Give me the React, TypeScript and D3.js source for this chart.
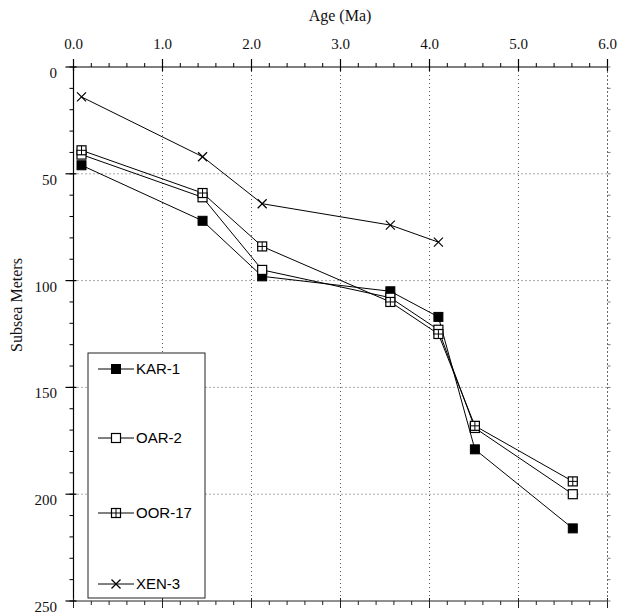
import React from "react";
import * as d3 from "d3";

const ages = [0.09, 1.45, 2.12, 3.56, 4.1, 4.51, 5.61];
const kar1 = [46, 72, 98, 105, 117, 179, 216];
const oar2 = [41, 61, 95, 108, 123, 169, 200];
const oor17 = [39, 59, 84, 110, 125, 168, 194];
const xen3 = [14, 42, 64, 74, 82];
const seriesNames = ["KAR-1", "OAR-2", "OOR-17", "XEN-3"];
const xTickLabels = ["0.0", "1.0", "2.0", "3.0", "4.0", "5.0", "6.0"];
const yTickValues = [0, 50, 100, 150, 200, 250];

const W = 618;
const H = 616;

type Kind = "filled" | "open" | "cross" | "x";

function Marker({ kind, cx, cy }: { kind: Kind; cx: number; cy: number }) {
  const s = 9;
  const h = s / 2;
  if (kind === "filled") {
    return <rect x={cx - h} y={cy - h} width={s} height={s} fill="#000" stroke="#000" strokeWidth={1} />;
  }
  if (kind === "open") {
    return <rect x={cx - h} y={cy - h} width={s} height={s} fill="#fff" stroke="#000" strokeWidth={1.2} />;
  }
  if (kind === "cross") {
    return (
      <g>
        <rect x={cx - h} y={cy - h} width={s} height={s} fill="#fff" stroke="#000" strokeWidth={1.2} />
        <line x1={cx} x2={cx} y1={cy - h} y2={cy + h} stroke="#000" strokeWidth={1} />
        <line x1={cx - h} x2={cx + h} y1={cy} y2={cy} stroke="#000" strokeWidth={1} />
      </g>
    );
  }
  return (
    <g stroke="#000" strokeWidth={1.2}>
      <line x1={cx - h} x2={cx + h} y1={cy - h} y2={cy + h} />
      <line x1={cx - h} x2={cx + h} y1={cy + h} y2={cy - h} />
    </g>
  );
}

export default function App() {
  const x = d3.scaleLinear().domain([0, 6]).range([73.5, 607.5]);
  const y = d3.scaleLinear().domain([0, 250]).range([67, 601]);

  const series: { name: string; kind: Kind; vals: number[] }[] = [
    { name: seriesNames[0], kind: "filled", vals: kar1 },
    { name: seriesNames[1], kind: "open", vals: oar2 },
    { name: seriesNames[2], kind: "cross", vals: oor17 },
    { name: seriesNames[3], kind: "x", vals: xen3 },
  ];

  const line = d3
    .line<[number, number]>()
    .x((d) => x(d[0]))
    .y((d) => y(d[1]));

  const xMinor = d3.range(0, 6.0001, 0.2);
  const xMajor = d3.range(0, 7, 1);
  const yMinor = d3.range(0, 250.001, 10);
  const gridX = [1, 2, 3, 4, 5];
  const gridY = [50, 100, 150, 200];

  const [x0, x1] = x.range();
  const [y0, y1] = y.range();

  const legendX = 88;
  const legendY = 353;
  const legendW = 117;
  const legendH = 245;
  const legendRows = [369, 438, 513, 584];

  return (
    <svg
      width={W}
      height={H}
      style={{ position: "absolute", left: 0, top: 0, background: "#fff" }}
      fontFamily="'Liberation Serif', 'Times New Roman', serif"
    >
      <rect width={W} height={H} fill="#fff" />
      {gridX.map((v) => (
        <line key={"gx" + v} x1={x(v)} x2={x(v)} y1={y0} y2={y1} stroke="#555" strokeWidth={1} strokeDasharray="1,3" />
      ))}
      {gridY.map((v) => (
        <line key={"gy" + v} x1={x0} x2={x1} y1={y(v)} y2={y(v)} stroke="#555" strokeWidth={1} strokeDasharray="1,3" />
      ))}
      <line x1={x0} x2={x1} y1={y0} y2={y0} stroke="#000" strokeWidth={1.2} />
      <line x1={x0} x2={x0} y1={y0} y2={y1} stroke="#000" strokeWidth={1.2} />
      <line x1={x0} x2={x1} y1={y1} y2={y1} stroke="#222" strokeWidth={1} />
      <line x1={x1} x2={x1} y1={y0} y2={y1} stroke="#666" strokeWidth={1} strokeDasharray="2,2" />
      {xMinor.map((v, i) => (
        <line key={"tm" + i} x1={x(v)} x2={x(v)} y1={y0} y2={y0 - 4} stroke="#000" strokeWidth={1} />
      ))}
      {xMajor.map((v) => (
        <line key={"tM" + v} x1={x(v)} x2={x(v)} y1={y0 + 4} y2={y0 - 8} stroke="#000" strokeWidth={1.2} />
      ))}
      {xMinor.map((v, i) => (
        <line key={"bm" + i} x1={x(v)} x2={x(v)} y1={y1} y2={y1 + 4} stroke="#222" strokeWidth={1} />
      ))}
      {xMajor.map((v) => (
        <line key={"bM" + v} x1={x(v)} x2={x(v)} y1={y1 - 3} y2={y1 + 7} stroke="#222" strokeWidth={1} />
      ))}
      {yMinor.map((v, i) => (
        <line key={"lm" + i} x1={x0} x2={x0 - 4} y1={y(v)} y2={y(v)} stroke="#000" strokeWidth={1} />
      ))}
      {yTickValues.map((v) => (
        <line key={"lM" + v} x1={x0 + 3} x2={x0 - 8} y1={y(v)} y2={y(v)} stroke="#000" strokeWidth={1.2} />
      ))}
      {yMinor.map((v, i) => (
        <line key={"rm" + i} x1={x1} x2={x1 + 3} y1={y(v)} y2={y(v)} stroke="#777" strokeWidth={1} />
      ))}
      {xMajor.map((v, i) => (
        <text key={"xl" + v} x={x(v)} y={49} textAnchor="middle" fontSize={15} fill="#111">
          {xTickLabels[i]}
        </text>
      ))}
      {yTickValues.map((v) => (
        <text key={"yl" + v} x={57} y={y(v) + 11} textAnchor="end" fontSize={15} fill="#111">
          {String(v)}
        </text>
      ))}
      <text x={340} y={21} textAnchor="middle" fontSize={16} fill="#111">
        Age (Ma)
      </text>
      <text transform={`translate(22, 305) rotate(-90)`} textAnchor="middle" fontSize={16} fill="#111">
        Subsea Meters
      </text>
      {series.map((s) => (
        <path
          key={"p" + s.name}
          d={line(s.vals.map((v, i) => [ages[i], v] as [number, number])) || ""}
          fill="none"
          stroke="#000"
          strokeWidth={1}
        />
      ))}
      {series.map((s) =>
        s.vals.map((v, i) => <Marker key={s.name + i} kind={s.kind} cx={x(ages[i])} cy={y(v)} />)
      )}
      <rect x={legendX} y={legendY} width={legendW} height={legendH} fill="#fff" stroke="#222" strokeWidth={1} />
      {series.map((s, i) => (
        <g key={"lg" + s.name}>
          <line x1={98} x2={134} y1={legendRows[i]} y2={legendRows[i]} stroke="#000" strokeWidth={1} />
          <Marker kind={s.kind} cx={116} cy={legendRows[i]} />
          <text
            x={136}
            y={legendRows[i] + 5}
            fontSize={15}
            fontFamily="'Liberation Sans', Arial, sans-serif"
            fill="#000"
          >
            {s.name}
          </text>
        </g>
      ))}
    </svg>
  );
}
